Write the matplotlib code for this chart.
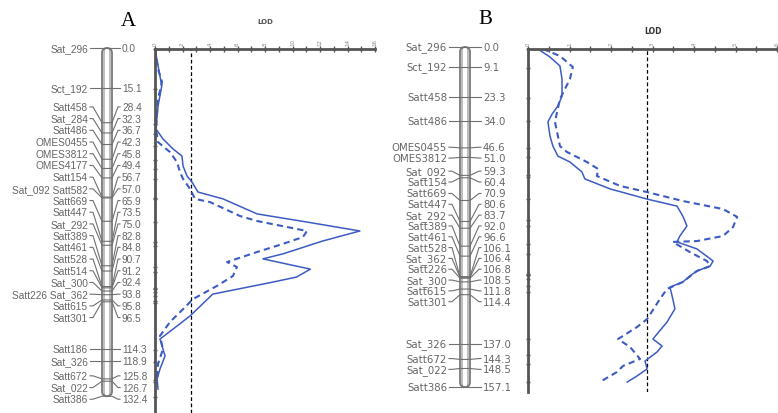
import matplotlib
matplotlib.use("Agg")
import matplotlib.pyplot as plt
from matplotlib.patches import FancyBboxPatch

# ---- linkage map A ----
names_a = ["Sat_296", "Sct_192", "Satt458", "Sat_284", "Satt486", "OMES0455", "OMES3812",
           "OMES4177", "Satt154", "Sat_092 Satt582", "Satt669", "Satt447", "Sat_292",
           "Satt389", "Satt461", "Satt528", "Satt514", "Sat_300", "Satt226 Sat_362",
           "Satt615", "Satt301", "Satt186", "Sat_326", "Satt672", "Sat_022", "Satt386"]
pos_a = [0.0, 15.1, 28.4, 32.3, 36.7, 42.3, 45.8, 49.4, 56.7, 57.0, 65.9, 73.5, 75.0,
         82.8, 84.8, 90.7, 91.2, 92.4, 93.8, 95.8, 96.5, 114.3, 118.9, 125.8, 126.7, 132.4]

# LOD profile A (LOD, cM)
solid_a_lod = [0, 0.36, 0.49, 0.22, 0.07, 0.58, 1.31, 1.96, 2.04, 2.33, 2.69, 2.91, 3.13,
               4.95, 7.42, 11.05, 14.9, 12.2, 9.3, 7.85, 11.3, 10.3, 8.6, 4.2, 2.55, 1.31,
               0.36, 0.73, 0.36, 0.15, 0.22]
solid_a_cm = [0, 10.3, 14.1, 21.7, 30.4, 34.2, 38.0, 40.7, 44.5, 48.3, 50.6, 52.5, 54.4,
              57.0, 62.7, 65.8, 69.2, 73.0, 77.9, 79.8, 83.7, 86.7, 88.6, 93.2, 101.5, 106.5,
              110.3, 116.7, 121.7, 125.5, 129.3]
dash_a_lod = [0, 0.22, 0.51, 0.22, 0.07, 0.22, 1.09, 1.6, 1.82, 2.04, 2.55, 2.91, 4.0, 6.18,
              7.42, 11.05, 10.76, 9.3, 7.42, 5.24, 5.96, 5.67, 4.5, 2.76, 2.04, 1.09, 0.36,
              0.58, 0.22, 0.15]
dash_a_cm = [0, 7.6, 12.5, 19.0, 30.4, 35.4, 39.2, 43.0, 46.8, 49.4, 53.2, 57.0, 58.2, 63.5,
             65.4, 69.2, 71.5, 74.1, 77.2, 81.0, 82.9, 86.3, 90.1, 95.1, 98.9, 103.8, 109.1,
             114.1, 119.8, 125.5]
thr_a = 2.6

# ---- linkage map B ----
names_b = ["Sat_296", "Sct_192", "Satt458", "Satt486", "OMES0455", "OMES3812", "Sat_092",
           "Satt154", "Satt669", "Satt447", "Sat_292", "Satt389", "Satt461", "Satt528",
           "Sat_362", "Satt226", "Sat_300", "Satt615", "Satt301", "Sat_326", "Satt672",
           "Sat_022", "Satt386"]
pos_b = [0.0, 9.1, 23.3, 34.0, 46.6, 51.0, 59.3, 60.4, 70.9, 80.6, 83.7, 92.0, 96.6, 106.1,
         106.4, 106.8, 108.5, 111.8, 114.4, 137.0, 144.3, 148.5, 157.1]

solid_b_lod = [0.24, 0.53, 0.77, 0.82, 0.82, 0.72, 0.58, 0.48, 0.53, 0.60, 0.72, 1.01, 1.30,
               1.37, 1.98, 2.87, 3.59, 3.73, 3.83, 3.66, 3.59, 4.07, 4.46, 4.39, 4.07, 3.90,
               3.73, 3.42, 3.49, 3.54, 3.35, 3.01, 3.23, 3.11, 2.82, 2.87, 2.63, 2.39]
solid_b_cm = [0, 3.8, 8.0, 14.2, 22.2, 26.9, 30.7, 34.4, 41.0, 45.8, 50.5, 53.3, 58.0, 61.3,
              66.0, 70.8, 74.1, 78.8, 83.5, 88.2, 91.0, 94.3, 100.0, 102.4, 104.7, 107.1,
              109.9, 112.3, 117.9, 122.6, 128.8, 136.8, 140.1, 142.9, 147.2, 150.9, 154.2, 157.1]
dash_b_lod = [0.36, 0.77, 1.08, 1.01, 0.89, 0.77, 0.70, 0.65, 0.72, 0.77, 0.94, 1.42, 1.69,
              1.66, 2.22, 2.87, 3.73, 4.70, 5.04, 4.94, 4.70, 4.07, 3.49, 3.90, 4.31, 4.39,
              4.07, 3.73, 3.35, 3.18, 2.87, 2.63, 2.17, 2.46, 2.70, 2.29, 2.14, 1.73]
dash_b_cm = [0, 3.3, 8.5, 14.2, 18.9, 23.6, 29.7, 34.4, 41.0, 45.8, 48.6, 53.3, 56.6, 59.9,
             64.6, 67.5, 71.7, 75.5, 79.2, 84.0, 88.2, 90.6, 91.0, 95.8, 100.0, 102.4, 104.7,
             109.9, 113.2, 117.9, 127.4, 131.1, 136.8, 140.6, 146.2, 149.5, 152.4, 157.1]
thr_b = 2.87

W, H = 778, 414
GREY = "#666666"
BLUE = "#3c5cc2"

fig = plt.figure(figsize=(W / 100, H / 100), dpi=100)


def px_axes(x0, y0, x1, y1):
    # axes from a pixel box (origin top-left)
    return fig.add_axes([x0 / W, 1 - y1 / H, (x1 - x0) / W, (y1 - y0) / H])


def spread(pos, gap):
    # fan out crowded labels: clusters centred on the middle of their markers
    clusters = [[i] for i in range(len(pos))]

    def place(c):
        mid = (pos[c[0]] + pos[c[-1]]) / 2
        return [mid + (k - (len(c) - 1) / 2) * gap for k in range(len(c))]

    merged = True
    while merged:
        merged = False
        for j in range(len(clusters) - 1):
            if place(clusters[j + 1])[0] < place(clusters[j])[-1] + gap - 1e-9:
                clusters[j] = clusters[j] + clusters.pop(j + 1)
                merged = True
                break
    out = []
    for c in clusters:
        out += place(c)
    return out


def draw_map(ax, names, pos, gap, xl, xr, lab_x, num_x, fs, family):
    lab = spread(pos, gap)
    cm_per_px = (ax.get_ylim()[0] - ax.get_ylim()[1]) / (ax.bbox.height)
    for inset, lw in [(0, 1.3), (2, 0.7)]:
        ax.add_patch(FancyBboxPatch((xl + inset, 0), xr - xl - 2 * inset, pos[-1],
                                    boxstyle="round,pad=0,rounding_size=%g" % ((xr - xl) / 2 - inset),
                                    mutation_aspect=cm_per_px, fc="none", ec="#7a7a7a", lw=lw,
                                    clip_on=False))
    for name, p, l in zip(names, pos, lab):
        ax.plot([lab_x + 2, lab_x + 5, xl, xr, num_x - 4, num_x - 2], [l, l, p, p, l, l],
                color="#707070", lw=0.8, clip_on=False)
        ax.text(lab_x, l, name, ha="right", va="center", fontsize=fs, color=GREY, family=family)
        ax.text(num_x, l, f"{p:.1f}", ha="left", va="center", fontsize=fs, color=GREY, family=family)


def lod_axes(ax, xmax, step, marks, thr):
    ax.set_xlim(0, xmax)
    for s in ["right", "bottom"]:
        ax.spines[s].set_visible(False)
    for s in ["left", "top"]:
        ax.spines[s].set_linewidth(2)
        ax.spines[s].set_color("#555555")
    ax.xaxis.tick_top()
    ax.set_xticks([i * step for i in range(int(xmax / step + 1e-6) + 1)])
    ax.set_xticks([(i + 0.5) * step for i in range(int(xmax / step))], minor=True)
    ax.set_xticklabels([f"{t:g}" for t in ax.get_xticks()])
    ax.tick_params(axis="x", which="both", direction="inout", length=4, width=1, colors="#555555",
                   labelsize=4, labelrotation=90, pad=1, labelcolor="#888888")
    ax.set_yticks(marks)
    ax.set_yticklabels([])
    ax.tick_params(axis="y", direction="inout", length=3, width=1, colors="#555555")
    ax.axvline(thr, color="k", lw=0.9, ls=(0, (3, 2)))


# panel A
chr_a = px_axes(0, 0, 150, H)
chr_a.set_xlim(0, 150)
chr_a.set_ylim((H - 49) / 2.63, -49 / 2.63)
chr_a.axis("off")
draw_map(chr_a, names_a, pos_a, 4.45, 102, 112, 88, 122, 7.3, "Liberation Sans")

lod_a = px_axes(155, 50, 375, H)
lod_a.set_ylim((H - 50) / 2.63, 0)
lod_axes(lod_a, 16, 2, pos_a, thr_a)
lod_a.plot(solid_a_lod, solid_a_cm, color=BLUE, lw=1.1)
lod_a.plot(dash_a_lod, dash_a_cm, color=BLUE, lw=1.5, ls=(0, (3, 2)))

# panel B
chr_b = px_axes(380, 0, 520, H)
chr_b.set_xlim(380, 520)
chr_b.set_ylim((H - 48) / 2.165, -48 / 2.165)
chr_b.axis("off")
draw_map(chr_b, names_b, pos_b, 5.0, 460, 470, 447, 483, 7.3, "DejaVu Sans")

lod_b = px_axes(528, 50, W, 393)
lod_b.set_ylim((393 - 50) / 2.12, 0)
lod_axes(lod_b, 250 / 41.5, 1, pos_b, thr_b)
lod_b.plot(solid_b_lod, solid_b_cm, color=BLUE, lw=1.1)
lod_b.plot(dash_b_lod, dash_b_cm, color=BLUE, lw=1.5, ls=(0, (3, 2)))

fig.text(128 / W, 1 - 22 / H, "A", ha="center", va="center", fontsize=15, family="Liberation Serif")
fig.text(485 / W, 1 - 20 / H, "B", ha="center", va="center", fontsize=15, family="Liberation Serif")
fig.text(265 / W, 1 - 22 / H, "LOD", ha="center", va="center", fontsize=5, weight="bold", color="#555555")
fig.text(653 / W, 1 - 31 / H, "LOD", ha="center", va="center", fontsize=5.5, weight="bold", color="#333333")

fig.savefig("out.png", dpi=100)
